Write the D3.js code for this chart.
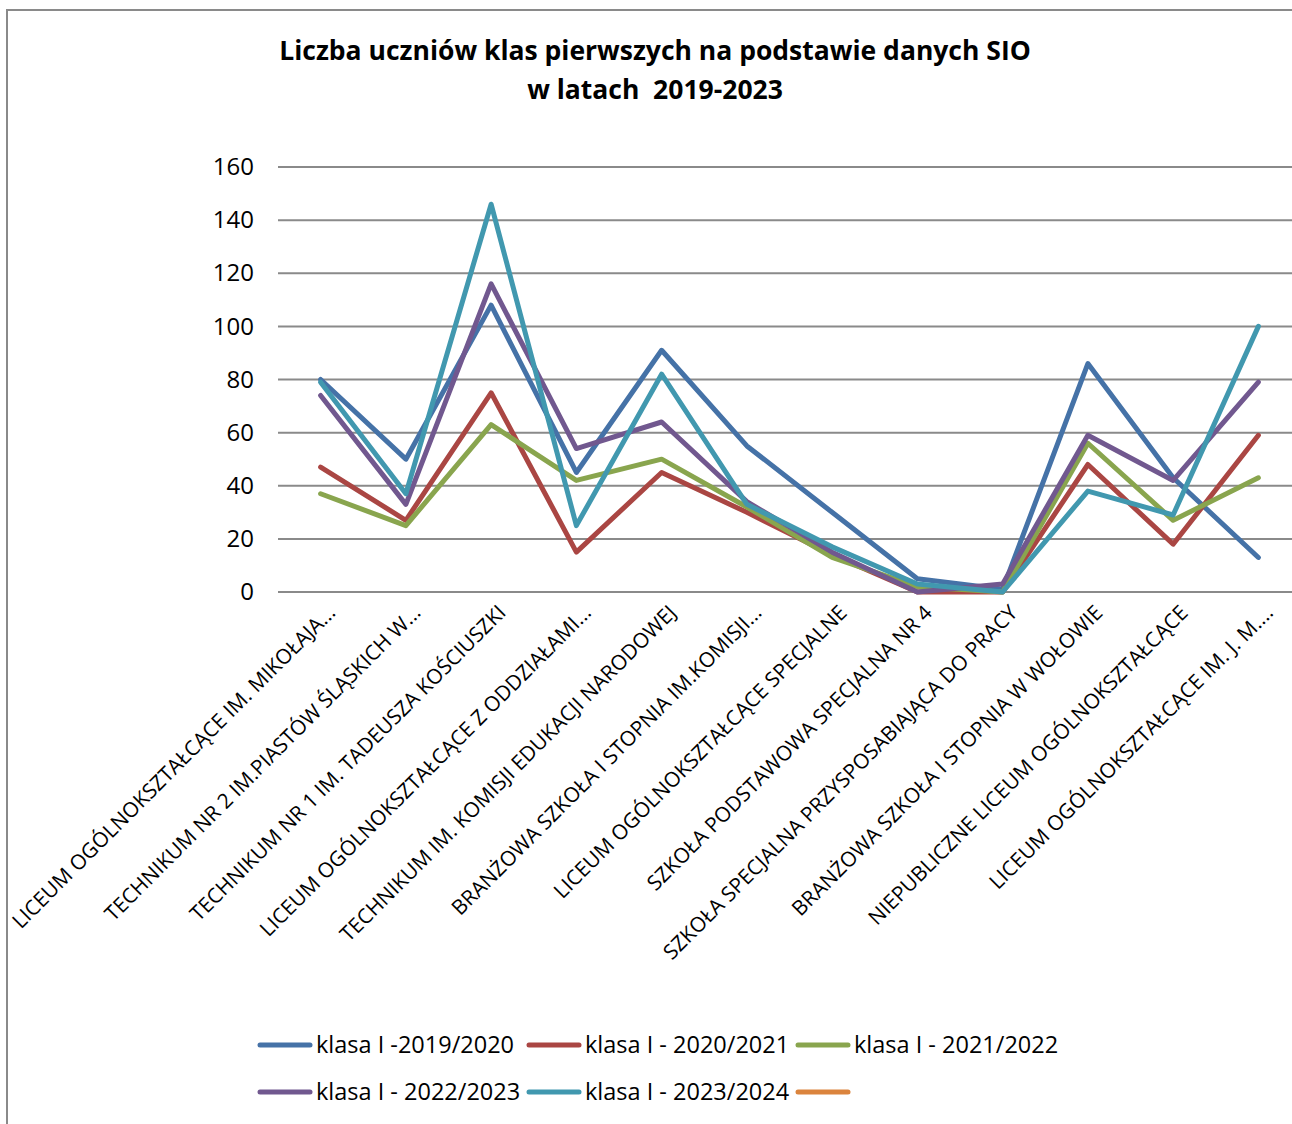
<!DOCTYPE html>
<html lang="pl">
<head>
<meta charset="utf-8">
<script src="https://d3js.org/d3.v7.min.js"></script>
<style>
  body { margin: 0; background: #fff; }
  svg text { font-family: "Open Sans", sans-serif; fill: #000; white-space: pre; }
  .grid line { stroke: #8a8a8a; stroke-width: 2px; }
  .series path { fill: none; stroke-width: 5px; stroke-linejoin: round; stroke-linecap: round; }
</style>
</head>
<body>
<script>

// Categories (school names, truncated as in the original chart)
var schools = [
  "LICEUM OGÓLNOKSZTAŁCĄCE IM. MIKOŁAJA...",
  "TECHNIKUM NR 2 IM.PIASTÓW ŚLĄSKICH W...",
  "TECHNIKUM NR 1 IM. TADEUSZA KOŚCIUSZKI",
  "LICEUM OGÓLNOKSZTAŁCĄCE Z ODDZIAŁAMI...",
  "TECHNIKUM IM. KOMISJI EDUKACJI NARODOWEJ",
  "BRANŻOWA SZKOŁA I STOPNIA IM.KOMISJI...",
  "LICEUM OGÓLNOKSZTAŁCĄCE SPECJALNE",
  "SZKOŁA PODSTAWOWA SPECJALNA NR 4",
  "SZKOŁA SPECJALNA PRZYSPOSABIAJĄCA DO PRACY",
  "BRANŻOWA SZKOŁA I STOPNIA W WOŁOWIE",
  "NIEPUBLICZNE LICEUM OGÓLNOKSZTAŁCĄCE",
  "LICEUM OGÓLNOKSZTAŁCĄCE IM. J. M...."
];

// One array per school year
var klasa2019 = [80, 50, 108, 45, 91, 55, 30, 5, 1, 86, 43, 13];
var klasa2020 = [47, 27, 75, 15, 45, 30, 14, 0, 0, 48, 18, 59];
var klasa2021 = [37, 25, 63, 42, 50, 32, 13, 2, 0, 56, 27, 43];
var klasa2022 = [74, 33, 116, 54, 64, 34, 15, 0, 3, 59, 42, 79];
var klasa2023 = [79, 37, 146, 25, 82, 33, 17, 3, 0, 38, 29, 100];
var klasaEmpty = [];   // orange legend entry without data

var seriesNames = ["klasa I -2019/2020", "klasa I - 2020/2021", "klasa I - 2021/2022",
                   "klasa I - 2022/2023", "klasa I - 2023/2024", ""];
var seriesColors = ["#4572A7", "#AA4643", "#89A54E", "#71588F", "#4198AF", "#DB843D"];
var yTicks = [0, 20, 40, 60, 80, 100, 120, 140, 160];

var series = [klasa2019, klasa2020, klasa2021, klasa2022, klasa2023, klasaEmpty].map(function(v, i) {
  return { name: seriesNames[i], color: seriesColors[i], values: v };
});

var width = 1292,
    height = 1124;

var svg = d3.select("body")
            .append("svg")
            .attr("width", width)
            .attr("height", height);

// chart border (runs off the right/bottom edge like the original)
svg.append("rect")
    .attr("x", 7).attr("y", 10)
    .attr("width", 1320).attr("height", 1150)
    .attr("fill", "#fff")
    .attr("stroke", "#8a8a8a")
    .attr("stroke-width", 2);

// Title
var title = svg.append("text")
    .attr("text-anchor", "middle")
    .attr("font-weight", "bold")
    .attr("font-size", 26.5);
title.append("tspan").attr("x", 655).attr("y", 60).text("Liczba uczniów klas pierwszych na podstawie danych SIO");
title.append("tspan").attr("x", 655).attr("y", 99).text("w latach  2019-2023");

// Scales
var x = d3.scalePoint()
    .domain(schools)
    .range([278, 1301])
    .padding(0.5);

var y = d3.scaleLinear()
    .domain([0, 160])
    .range([592, 167]);

// Gridlines + y labels
var grid = svg.append("g").attr("class", "grid");
grid.selectAll("line")
    .data(yTicks)
    .enter().append("line")
      .attr("x1", 278)
      .attr("x2", 1301)
      .attr("y1", function(d) { return y(d); })
      .attr("y2", function(d) { return y(d); });

svg.append("g")
    .attr("transform", "translate(254,0)")
    .call(d3.axisLeft(y).tickValues(yTicks).tickSize(0).tickPadding(0))
    .call(function(g) { g.select(".domain").remove(); })
    .selectAll("text")
      .attr("font-size", 24)
      .style("font-family", "'Open Sans', sans-serif");

// X labels, rotated
var xLabels = svg.append("g");
xLabels.selectAll("text")
    .data(schools)
    .enter().append("text")
      .attr("text-anchor", "end")
      .attr("font-size", 20.8)
      .attr("transform", function(d) { return "translate(" + (x(d) + 16) + ",614) rotate(-45)"; })
      .text(function(d) { return d; });

// Lines
var line = d3.line()
    .x(function(d, i) { return x(schools[i]); })
    .y(function(d) { return y(d); });

svg.append("g")
    .attr("class", "series")
  .selectAll("path")
  .data(series.filter(function(s) { return s.values.length; }))
  .enter().append("path")
    .attr("stroke", function(d) { return d.color; })
    .attr("d", function(d) { return line(d.values); });

// Legend (3 columns, 2 rows)
var legend = svg.append("g")
  .selectAll("g")
  .data(series)
  .enter().append("g")
    .attr("transform", function(d, i) { return "translate(" + (258 + (i % 3) * 269) + "," + (1045 + Math.floor(i / 3) * 47) + ")"; });

legend.append("line")
    .attr("x1", 2).attr("x2", 52)
    .attr("stroke", function(d) { return d.color; })
    .attr("stroke-width", 5)
    .attr("stroke-linecap", "round");

legend.append("text")
    .attr("x", 58)
    .attr("dy", "0.35em")
    .attr("font-size", 23.5)
    .text(function(d) { return d.name; });

</script>
</body>
</html>
